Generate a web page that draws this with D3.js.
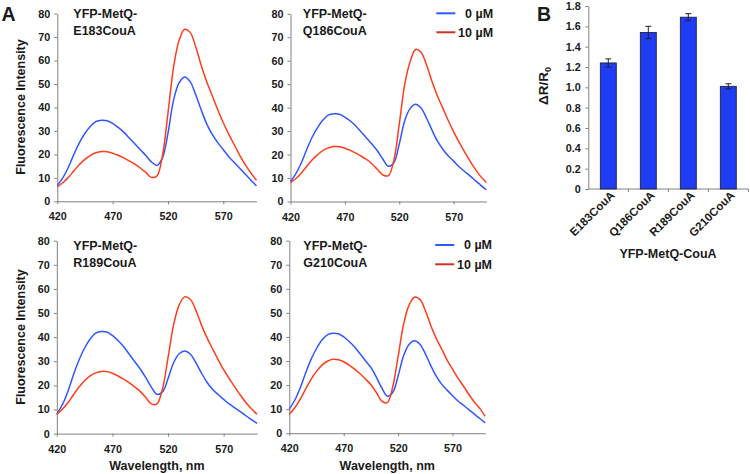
<!DOCTYPE html>
<html>
<head>
<meta charset="utf-8">
<script src="https://cdn.jsdelivr.net/npm/d3@7"></script>
<style>
  html, body { margin: 0; padding: 0; background: #fff; }
  svg { display: block; }
  text { font-family: 'Liberation Sans', Arial, Helvetica, sans-serif; font-weight: bold; fill: #1a1a1a; }
</style>
</head>
<body>
<svg id="chart" width="750" height="474"></svg>
<script>
// ---------------- DATA ----------------
const wavelengths = [420,425,430,435,440,445,450,455,460,465,470,475,480,485,490,495,500,505,510,515,
                     520,525,530,535,540,545,550,555,560,565,570,575,580,585,590,595,600];
const wlTicks = [420, 470, 520, 570];
const fiTicks = [0, 10, 20, 30, 40, 50, 60, 70, 80];
const seriesNames = ["0 µM", "10 µM"];

const e183_0  = [6.8,10,14.5,20,25,29,32,34,34.5,34.3,33.2,31.5,29.5,27,24.5,22,19.5,16.8,15.3,18.5,
                 29.0,43,50.5,53,51,45.5,39,33,28.5,25,22,19,16.5,14,11.5,9,6.5];
const e183_10 = [6.1,7.9,10.2,13.0,15.7,17.9,19.6,20.7,21.2,21.1,20.5,19.6,18.5,17.2,15.8,14.2,12.3,10.2,10.8,19.5,
                 37.5,57,68.5,73.3,72,66,58,51,45,39,33.5,28.5,24,19.5,15.5,12,9];
const q186_0  = [8.5,11.9,16.5,22.3,27.5,31.6,34.8,36.9,37.4,37.2,36.0,34.3,32.2,29.6,27.0,24.4,21.5,18.0,15.0,16.5,
                 24.5,34.4,39.7,41.5,39.9,35.6,30.5,25.8,22.3,19.5,17.2,14.8,12.8,10.9,8.9,6.9,5.0];
const q186_10 = [8,9.8,12.2,15.0,17.8,20.0,21.8,22.9,23.4,23.3,22.7,21.8,20.6,19.3,17.9,16.0,13.6,11.3,11.0,17.5,
                 33.0,49.9,59.7,64.8,63.6,58.3,51.3,45.1,39.8,34.5,29.7,25.3,21.2,17.2,13.7,10.6,8.1];
const r189_0  = [8,12.0,17.5,24.4,30.5,35.5,39.2,41.7,42.3,42.1,40.7,38.6,36.1,33.0,29.9,26.8,23.2,19.3,16.3,17.3,
                 22.8,29.4,33.1,34.3,33.0,29.4,25.2,21.3,18.4,16.2,14.2,12.3,10.7,9.1,7.4,5.8,4.2];
const r189_10 = [8,10.1,12.8,16.1,19.3,21.9,23.9,25.2,25.8,25.7,25.0,23.9,22.6,21.1,19.4,17.5,15.0,12.3,12.3,18.5,
                 31.5,45.1,53.3,56.7,55.7,51.2,45.1,39.8,35.2,30.7,26.5,22.8,19.4,16.0,12.9,10.3,8.0];
const g210_0  = [10,13.7,18.8,25.0,30.7,35.2,38.7,40.9,41.5,41.3,40.0,38.1,35.8,33.0,30.1,27.3,23.3,18.8,15.4,16.9,
                 23.8,32.2,36.9,38.4,37.0,33.0,28.1,23.7,20.4,17.9,15.6,13.4,11.6,9.8,7.9,6.1,4.3];
const g210_10 = [7.9,10.6,14.1,18.3,22.4,25.7,28.3,29.9,30.7,30.5,29.7,28.3,26.6,24.7,22.5,20.1,16.9,13.3,12.7,19.2,
                 31.9,45.2,53.2,56.5,55.6,51.0,44.8,39.4,35.0,30.4,26.6,22.9,19.6,16.1,13.0,10.3,7.0];

const barCategories = ["E183CouA", "Q186CouA", "R189CouA", "G210CouA"];
const barValues = [1.24, 1.54, 1.69, 1.01];
const barErrors = [0.04, 0.06, 0.035, 0.025];
const barTicks = [0, 0.2, 0.4, 0.6, 0.8, 1.0, 1.2, 1.4, 1.6, 1.8];

// ---------------- STYLE / LAYOUT ----------------
const BLUE = "#3057ff", RED = "#ff3d1c", RED_LEG = "#cc3322", AXIS = "#808080";
const svg = d3.select("#chart");
svg.append("rect").attr("width", 750).attr("height", 474).attr("fill", "#fff");

const panels = [
  { name: "E183CouA", s0: e183_0, s1: e183_10, xr: [57.3, 256.5], yr: [201.3, 13.6],
    lx: 73.3, ly: [17.8, 34.6], legend: null, yTitle: 107, xTitle: null },
  { name: "Q186CouA", s0: q186_0, s1: q186_10, xr: [290.5, 486.3], yr: [201.5, 13.8],
    lx: 302.8, ly: [17.8, 34.6], legend: [13.3, 32.3], yTitle: null, xTitle: null },
  { name: "R189CouA", s0: r189_0, s1: r189_10, xr: [56.8, 257], yr: [433.6, 240.7],
    lx: 73.3, ly: [250, 266.8], legend: null, yTitle: 337, xTitle: 470 },
  { name: "G210CouA", s0: g210_0, s1: g210_10, xr: [289.3, 485.2], yr: [433.2, 240.7],
    lx: 303.3, ly: [250, 266.8], legend: [245, 264.3], yTitle: null, xTitle: 470 }
];

function styleAxis(g) {
  g.selectAll("path.domain").attr("stroke", AXIS).attr("stroke-width", 1);
  g.selectAll(".tick line").attr("stroke", AXIS).attr("stroke-width", 1);
  g.selectAll(".tick text").attr("fill", "#1a1a1a")
    .style("font-family", "'Liberation Sans', Arial, sans-serif").style("font-weight", "bold");
}

panels.forEach(p => {
  const x = d3.scaleLinear().domain([420, 600]).range(p.xr);
  const y = d3.scaleLinear().domain([0, 80]).range(p.yr);

  const gx = svg.append("g").attr("transform", `translate(0,${p.yr[0]})`)
    .call(d3.axisBottom(x).tickValues(wlTicks).tickSize(3).tickSizeOuter(0).tickPadding(8.5));
  gx.selectAll(".tick text").attr("font-size", 10.8);
  styleAxis(gx);

  const gy = svg.append("g").attr("transform", `translate(${p.xr[0]},0)`)
    .call(d3.axisLeft(y).tickValues(fiTicks).tickSize(3).tickSizeOuter(0).tickPadding(4));
  gy.selectAll(".tick text").attr("font-size", 10.8);
  styleAxis(gy);

  const line = d3.line()
    .x((d, i) => x(wavelengths[i]))
    .y(d => y(d))
    .curve(d3.curveCatmullRom.alpha(0.5));

  svg.append("path").datum(p.s0).attr("d", line)
    .attr("fill", "none").attr("stroke", BLUE).attr("stroke-width", 1.5);
  svg.append("path").datum(p.s1).attr("d", line)
    .attr("fill", "none").attr("stroke", RED).attr("stroke-width", 1.5);

  svg.append("text").attr("x", p.lx).attr("y", p.ly[0]).attr("font-size", 12.5).text("YFP-MetQ-");
  svg.append("text").attr("x", p.lx).attr("y", p.ly[1]).attr("font-size", 12.5).text(p.name);

  if (p.legend) {
    const lx1 = p.xr[1] - 50, lx2 = p.xr[1] - 31, tx = p.xr[1] + 6.8;
    [[BLUE, seriesNames[0]], [RED_LEG, seriesNames[1]]].forEach((d, i) => {
      svg.append("line").attr("x1", lx1).attr("x2", lx2)
        .attr("y1", p.legend[i]).attr("y2", p.legend[i])
        .attr("stroke", d[0]).attr("stroke-width", 2);
      svg.append("text").attr("x", tx).attr("y", p.legend[i] + 4.3)
        .attr("text-anchor", "end").attr("font-size", 12.5).text(d[1]);
    });
  }
  if (p.yTitle !== null) {
    svg.append("text").attr("transform", `translate(25,${p.yTitle}) rotate(-90)`)
      .attr("text-anchor", "middle").attr("font-size", 12.5).text("Fluorescence Intensity");
  }
  if (p.xTitle !== null) {
    svg.append("text").attr("x", (p.xr[0] + p.xr[1]) / 2).attr("y", p.xTitle)
      .attr("text-anchor", "middle").attr("font-size", 12.5).text("Wavelength, nm");
  }
});

// Panel letters
svg.append("text").attr("x", 1.5).attr("y", 20.8).attr("font-size", 19.5).text("A");
svg.append("text").attr("x", 537).attr("y", 20.8).attr("font-size", 19.5).text("B");

// ---------------- BAR CHART ----------------
const bx = d3.scaleBand().domain(barCategories).range([588.3, 748.3]).paddingInner(0.6).paddingOuter(0.3);
const by = d3.scaleLinear().domain([0, 1.8]).range([189, 6]);

const gby = svg.append("g").attr("transform", "translate(588.3,0)")
  .call(d3.axisLeft(by).tickValues(barTicks).tickSize(3).tickSizeOuter(0).tickPadding(4.5)
    .tickFormat(d => d === 0 ? "0" : d3.format(".1f")(d)));
gby.selectAll(".tick text").attr("font-size", 10.8);
styleAxis(gby);

// x axis line with ticks at category boundaries
const gbx = svg.append("g").attr("transform", "translate(0,189)");
gbx.append("line").attr("x1", 588.3).attr("x2", 748.3).attr("y1", 0).attr("y2", 0)
  .attr("stroke", AXIS).attr("stroke-width", 1);
barCategories.forEach((c) => {
  const edge = bx(c) - bx.step() * 0.3 + bx.step();
  gbx.append("line").attr("x1", edge).attr("x2", edge)
    .attr("y1", 0).attr("y2", 3).attr("stroke", AXIS);
});

svg.selectAll("rect.bar").data(barValues).enter().append("rect").attr("class", "bar")
  .attr("x", (d, i) => bx(barCategories[i]))
  .attr("y", d => by(d))
  .attr("width", bx.bandwidth())
  .attr("height", d => by(0) - by(d))
  .attr("fill", "#1f3cf5").attr("stroke", "#1a1a2a").attr("stroke-width", 0.8);

barValues.forEach((v, i) => {
  const cx = bx(barCategories[i]) + bx.bandwidth() / 2;
  const e = barErrors[i];
  svg.append("line").attr("x1", cx).attr("x2", cx).attr("y1", by(v + e)).attr("y2", by(v - e))
    .attr("stroke", "#222").attr("stroke-width", 1);
  [v + e, v - e].forEach(t => {
    svg.append("line").attr("x1", cx - 3).attr("x2", cx + 3).attr("y1", by(t)).attr("y2", by(t))
      .attr("stroke", "#222").attr("stroke-width", 1);
  });
  svg.append("text")
    .attr("transform", `translate(${cx + 7},196) rotate(-45)`)
    .attr("text-anchor", "end").attr("font-size", 11.5).text(barCategories[i]);
});

// bar axis titles
const yt = svg.append("text").attr("transform", "translate(547.5,86) rotate(-90)")
  .attr("text-anchor", "middle").attr("font-size", 13.5);
yt.append("tspan").text("ΔR/R");
yt.append("tspan").attr("font-size", 9).attr("dy", 3).text("0");

svg.append("text").attr("x", 668).attr("y", 258).attr("text-anchor", "middle")
  .attr("font-size", 12.5).text("YFP-MetQ-CouA");
</script>
</body>
</html>
